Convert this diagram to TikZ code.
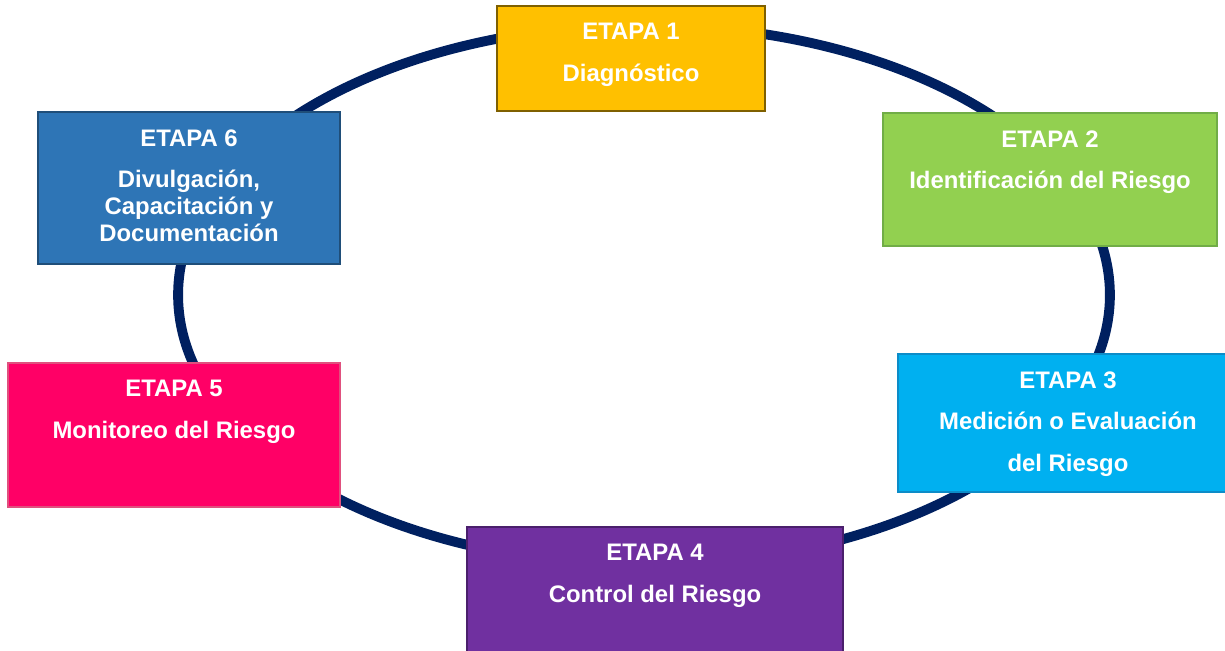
\documentclass[tikz,border=0pt]{standalone}
\usepackage{fontspec}
\setmainfont{Liberation Sans}
\usetikzlibrary{positioning}
\definecolor{ringblue}{HTML}{002060}
\definecolor{gold}{HTML}{FFC000}
\definecolor{golddark}{HTML}{7F6000}
\definecolor{lime}{HTML}{92D050}
\definecolor{limedark}{HTML}{71AD47}
\definecolor{sky}{HTML}{00B0F0}
\definecolor{skydark}{HTML}{0C8CC8}
\definecolor{violet}{HTML}{7030A0}
\definecolor{violetdark}{HTML}{4A1F6C}
\definecolor{rose}{HTML}{FF0066}
\definecolor{rosedark}{HTML}{E0507E}
\definecolor{steel}{HTML}{2E75B6}
\definecolor{steeldark}{HTML}{1F4E79}

\begin{document}
\begin{tikzpicture}[x=0.02cm, y=-0.02cm,
	etapa/.style = {rectangle, line width=1.1pt, inner sep=0pt, outer sep=0pt},
	lbl/.style = {text=white, align=center, inner sep=0pt,
		font=\fontsize{13.6}{15.3}\selectfont\bfseries},
	ring/.style = {draw=ringblue, line width=5.6pt}]
	\useasboundingbox (0,0) rectangle (1225,650);
	% ciclo
	\draw[ring] (644,295) ellipse [x radius=9.32cm, y radius=5.4cm];
	% etapas
	\node[etapa, fill=gold, draw=golddark, minimum width=5.36cm, minimum height=2.1cm] (e1) at (631,58.5) {};
	\node[etapa, fill=lime, draw=limedark, minimum width=6.68cm, minimum height=2.66cm] (e2) at (1050,179.5) {};
	\node[etapa, fill=sky, draw=skydark, minimum width=6.6cm, minimum height=2.76cm] (e3) at (1063,423) {};
	\node[etapa, fill=violet, draw=violetdark, minimum width=7.52cm, minimum height=2.56cm] (e4) at (655,591) {};
	\node[etapa, fill=rose, draw=rosedark, minimum width=6.64cm, minimum height=2.88cm] (e5) at (174,435) {};
	\node[etapa, fill=steel, draw=steeldark, minimum width=6.04cm, minimum height=3.04cm] (e6) at (189,188) {};
	% textos
	\node[lbl, below=0.34cm of e1.north] (t1) {ETAPA 1\\[8.5pt]Diagnóstico};
	\node[lbl, below=0.34cm of e2.north] (t2) {ETAPA 2\\[8.5pt]Identificación del Riesgo};
	\node[lbl, below=0.34cm of e3.north, xshift=0.1cm] (t3) {ETAPA 3\\[8.5pt]Medición o Evaluación\\[8.5pt]del Riesgo};
	\node[lbl, below=0.34cm of e4.north] (t4) {ETAPA 4\\[8.5pt]Control del Riesgo};
	\node[lbl, below=0.34cm of e5.north] (t5) {ETAPA 5\\[8.5pt]Monitoreo del Riesgo};
	\node[lbl, below=0.34cm of e6.north] (t6) {ETAPA 6\\[8.5pt]Divulgación,\\Capacitación y\\Documentación};
\end{tikzpicture}
\end{document}
